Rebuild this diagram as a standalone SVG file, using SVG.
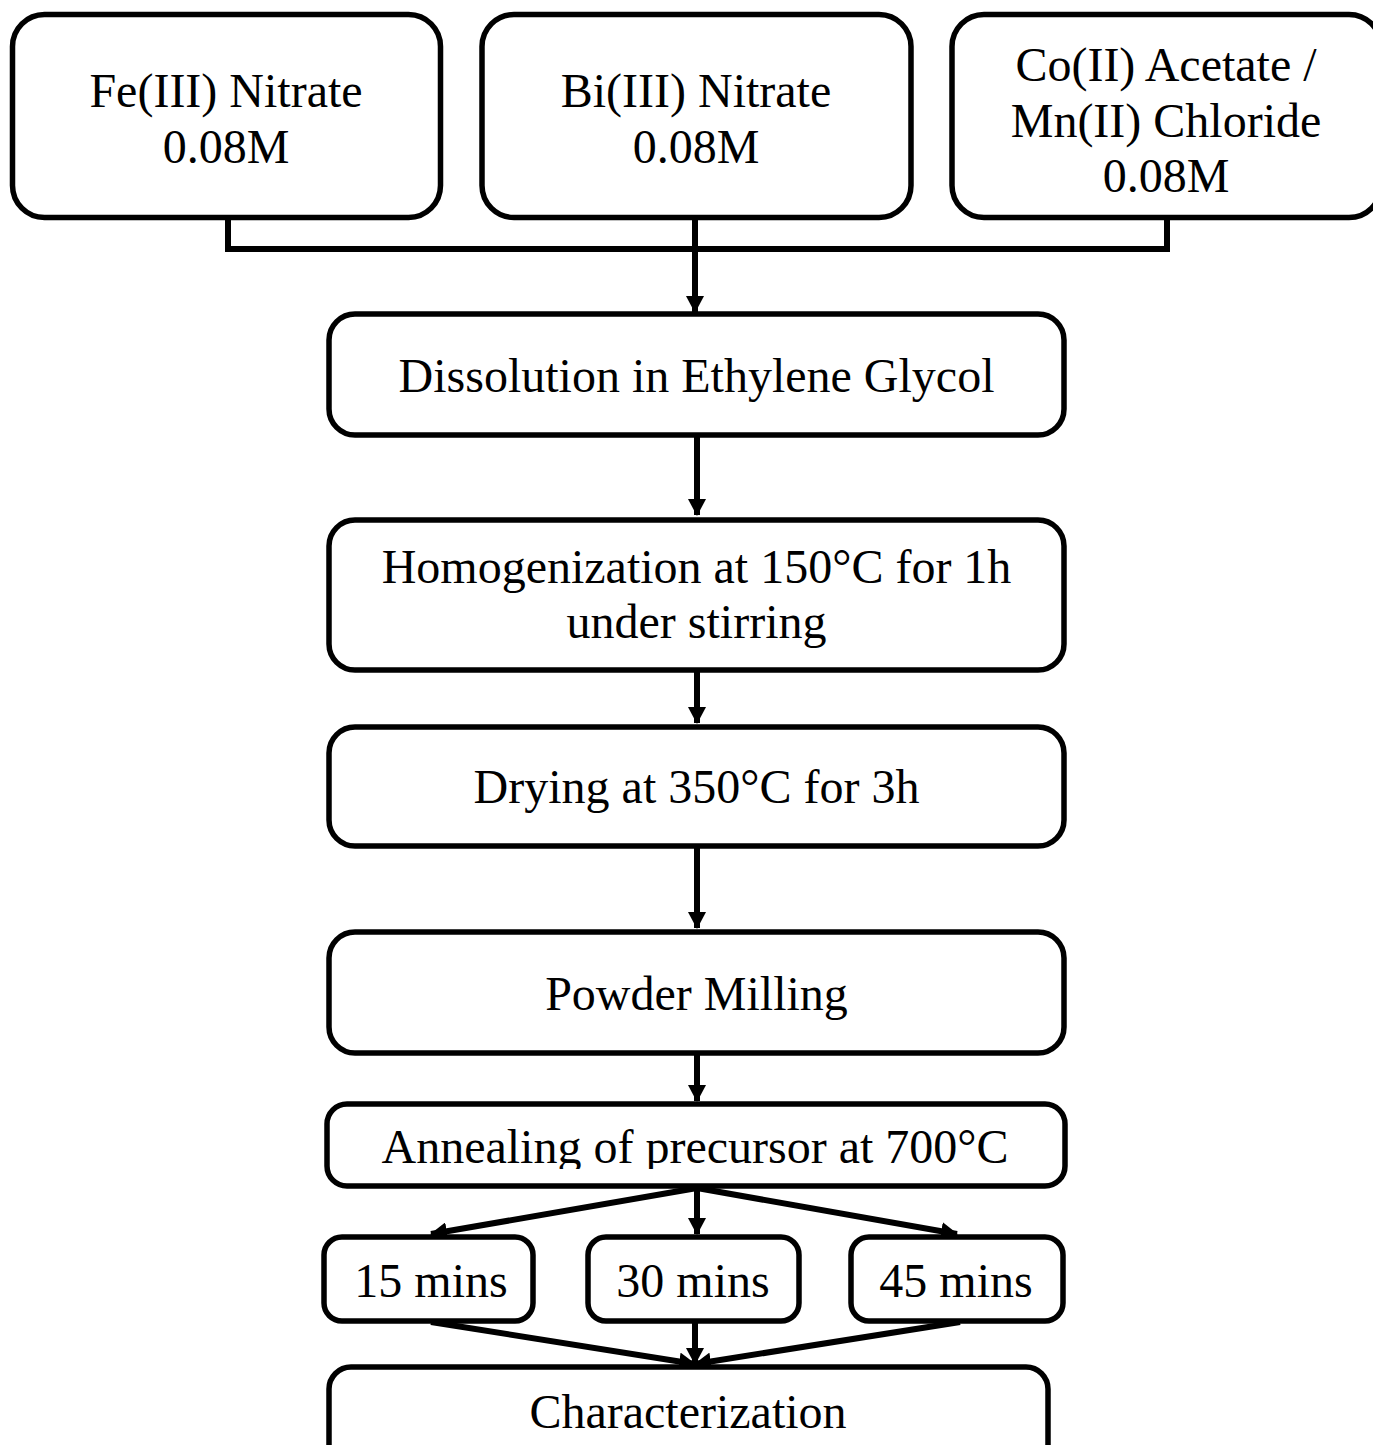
<svg xmlns="http://www.w3.org/2000/svg" width="1373" height="1445" viewBox="0 0 1373 1445">
<style>
.box{fill:#fff;stroke:#000;stroke-width:5.5}
.t{font-family:"Liberation Serif","Times New Roman",serif;font-size:48px;fill:#000;text-anchor:middle}
.c{fill:none;stroke:#000;stroke-width:6}
</style>
<defs>
<marker id="ah" markerUnits="userSpaceOnUse" markerWidth="18" markerHeight="18" viewBox="0 0 18 18" refX="16" refY="9" orient="auto">
<path d="M0,0 L17,9 L0,18 Z" fill="#000"/>
</marker>
<clipPath id="annClip"><rect x="327" y="1104" width="738" height="65"/></clipPath>
</defs>
<rect width="1373" height="1445" fill="#fff"/>
<g id="connectors">
<path class="c" d="M228,218 V249 H1167 V218"/>
<path class="c" d="M695,218 V312" marker-end="url(#ah)"/>
<path class="c" d="M697,436 V515" marker-end="url(#ah)"/>
<path class="c" d="M697,671 V723" marker-end="url(#ah)"/>
<path class="c" d="M697,847 V928" marker-end="url(#ah)"/>
<path class="c" d="M697,1054 V1101" marker-end="url(#ah)"/>
<path class="c" d="M697,1188 L431,1234" marker-end="url(#ah)"/>
<path class="c" d="M697,1188 V1234" marker-end="url(#ah)"/>
<path class="c" d="M697,1188 L957,1234" marker-end="url(#ah)"/>
<path class="c" d="M431,1322 L695,1364" marker-end="url(#ah)"/>
<path class="c" d="M695,1322 V1364" marker-end="url(#ah)"/>
<path class="c" d="M960,1322 L695,1364" marker-end="url(#ah)"/>
</g>
<g id="fe">
<rect class="box" x="12.5" y="14.5" width="428" height="203" rx="32"/>
<text class="t" x="226" y="107">Fe(III) Nitrate</text>
<text class="t" x="226" y="163">0.08M</text>
</g>
<g id="bi">
<rect class="box" x="482" y="14.5" width="429" height="203" rx="32"/>
<text class="t" x="696" y="107">Bi(III) Nitrate</text>
<text class="t" x="696" y="163">0.08M</text>
</g>
<g id="co">
<rect class="box" x="952" y="14.5" width="429" height="203" rx="32"/>
<text class="t" x="1166" y="81">Co(II) Acetate /</text>
<text class="t" x="1166" y="137">Mn(II) Chloride</text>
<text class="t" x="1166" y="192">0.08M</text>
</g>
<g id="dissolution">
<rect class="box" x="329" y="314" width="735" height="121" rx="26"/>
<text class="t" x="696.5" y="392">Dissolution in Ethylene Glycol</text>
</g>
<g id="homogenization">
<rect class="box" x="329" y="520" width="735" height="150" rx="26"/>
<text class="t" x="696.5" y="583">Homogenization at 150°C for 1h</text>
<text class="t" x="696.5" y="638">under stirring</text>
</g>
<g id="drying">
<rect class="box" x="329" y="727" width="735" height="119" rx="26"/>
<text class="t" x="696.5" y="803">Drying at 350°C for 3h</text>
</g>
<g id="milling">
<rect class="box" x="329" y="932" width="735" height="121" rx="26"/>
<text class="t" x="696.5" y="1010">Powder Milling</text>
</g>
<g id="annealing">
<rect class="box" x="327" y="1104" width="738" height="82" rx="20"/>
<text class="t" x="695" y="1163" clip-path="url(#annClip)">Annealing of precursor at 700°C</text>
</g>
<g id="m15">
<rect class="box" x="324" y="1237" width="209" height="84" rx="18"/>
<text class="t" x="431" y="1297">15 mins</text>
</g>
<g id="m30">
<rect class="box" x="588" y="1237" width="211" height="84" rx="18"/>
<text class="t" x="693" y="1297">30 mins</text>
</g>
<g id="m45">
<rect class="box" x="851" y="1237" width="212" height="84" rx="18"/>
<text class="t" x="956" y="1297">45 mins</text>
</g>
<g id="characterization">
<rect class="box" x="329" y="1367" width="719" height="120" rx="22"/>
<text class="t" x="688" y="1428">Characterization</text>
</g>
</svg>
